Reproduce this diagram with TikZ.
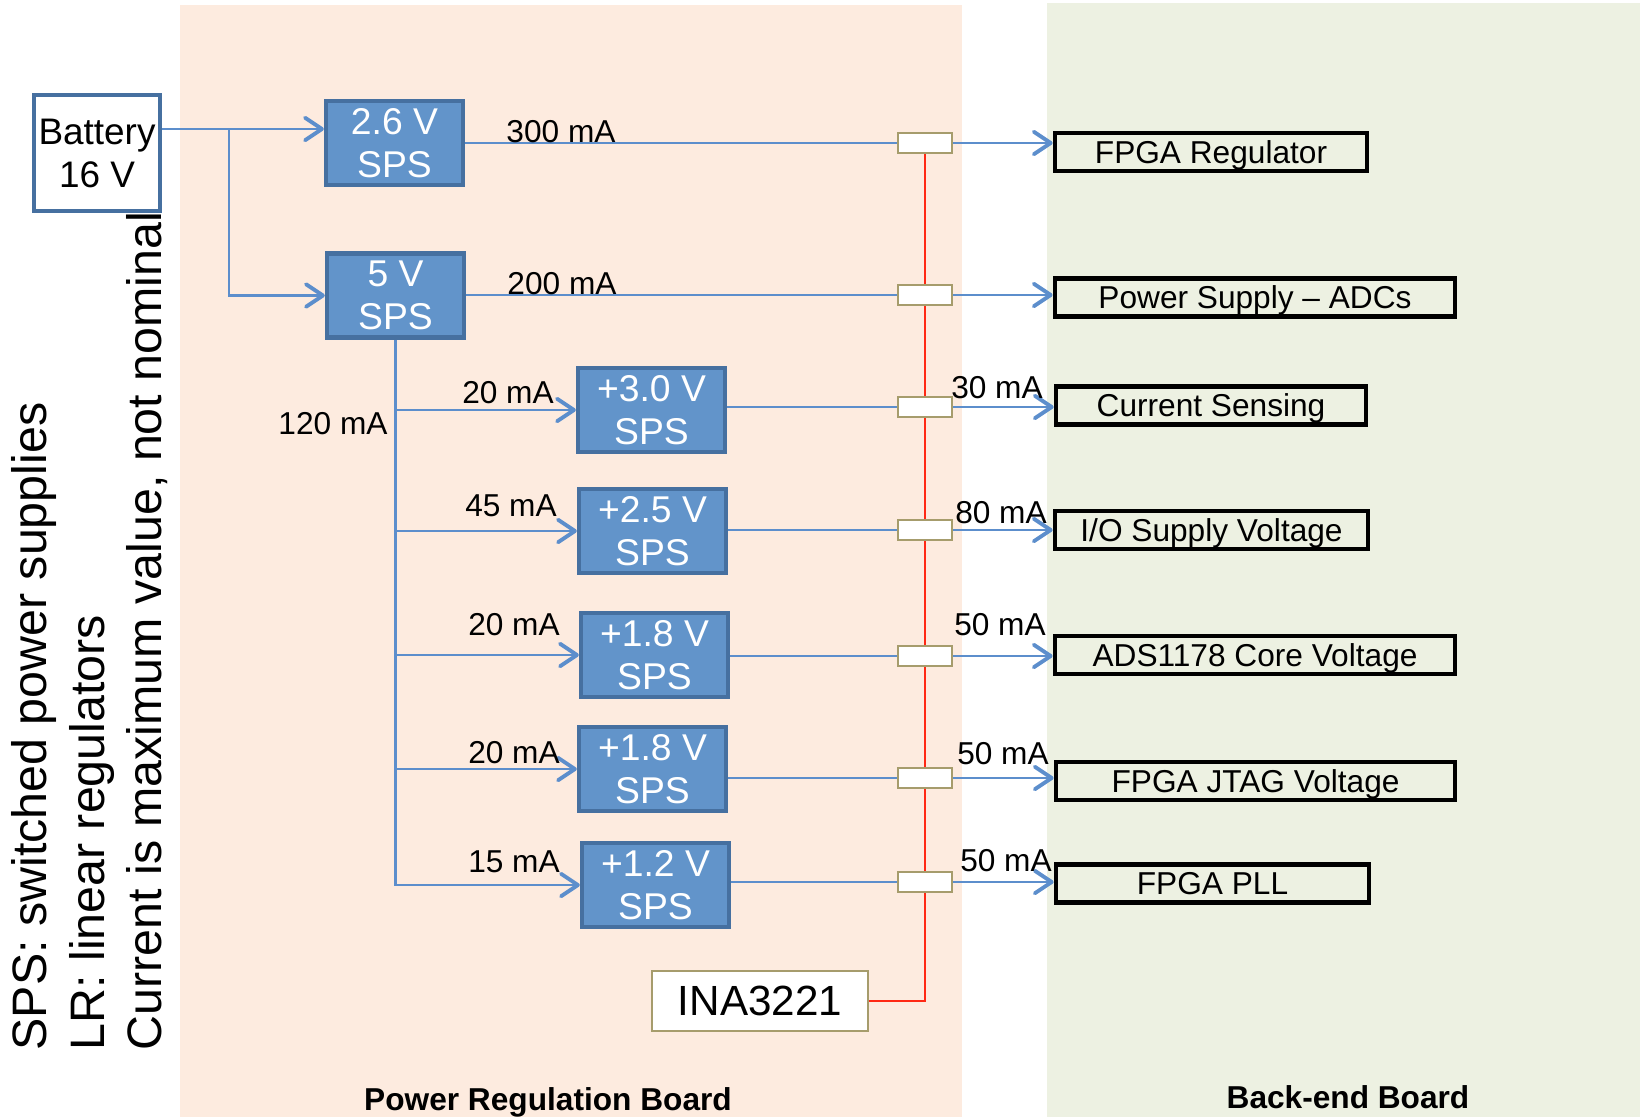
\documentclass[tikz,border=0pt]{standalone}
\usepackage{fontspec}
\setmainfont{Liberation Sans}
\usepackage{tikz}
\usetikzlibrary{arrows.meta,backgrounds}

\definecolor{peach}{RGB}{253,235,223}
\definecolor{sage}{RGB}{237,241,226}
\definecolor{spsfill}{RGB}{98,148,202}
\definecolor{spsedge}{RGB}{70,112,160}
\definecolor{wireblue}{RGB}{92,142,204}
\definecolor{khaki}{RGB}{166,156,108}
\definecolor{sensered}{RGB}{255,40,20}

\begin{document}
\begin{tikzpicture}[
  x=0.01cm, y=-0.01cm,
  sps/.style={draw=spsedge, line width=1.2pt, fill=spsfill, text=white, align=center,
              inner sep=0pt, minimum height=0.84cm, font=\fontsize{10.6pt}{12.2pt}\selectfont},
  batt/.style={draw=spsedge, line width=1.2pt, fill=white, align=center, inner sep=0pt,
               minimum width=1.26cm, minimum height=1.16cm, text depth=0pt,
               font=\fontsize{10.5pt}{12.2pt}\selectfont},
  load/.style={draw=black, line width=1.3pt, inner sep=0pt, minimum height=0.38cm,
               text depth=0pt, font=\fontsize{9pt}{10pt}\selectfont},
  shunt/.style={draw=khaki, line width=0.8pt, fill=white, inner sep=0pt,
                minimum width=0.54cm, minimum height=0.20cm},
  amps/.style={inner sep=0pt, anchor=base, font=\fontsize{9pt}{10pt}\selectfont},
  wire/.style={draw=wireblue, line width=0.6pt},
  feed/.style={wire, -{Straight Barb[length=4.8pt, width=6.4pt, line width=1.1pt, round]}},
  sense/.style={draw=sensered, line width=0.6pt},
  boardlabel/.style={inner sep=0pt, anchor=base, font=\bfseries\fontsize{9pt}{10pt}\selectfont}
]
  \useasboundingbox (0,0) rectangle (1640,1117);

  % supplies
  \node[batt] (battery) at (97,153) {Battery\\16 V};
  \node[sps, minimum width=1.37cm] (sps26)  at (394.5,143)   {2.6 V\\SPS};
  \node[sps, minimum width=1.37cm] (sps5)   at (395.5,295.5) {5 V\\SPS};
  \node[sps, minimum width=1.47cm] (sps30)  at (651.5,410)   {+3.0 V\\SPS};
  \node[sps, minimum width=1.47cm] (sps25)  at (652.5,531)   {+2.5 V\\SPS};
  \node[sps, minimum width=1.47cm] (sps18a) at (654.5,655)   {+1.8 V\\SPS};
  \node[sps, minimum width=1.47cm] (sps18b) at (652.5,769)   {+1.8 V\\SPS};
  \node[sps, minimum width=1.47cm] (sps12)  at (655.5,885)   {+1.2 V\\SPS};

  % sense resistors
  \node[shunt] (r1) at (925,143) {};
  \node[shunt] (r2) at (925,295) {};
  \node[shunt] (r3) at (925,407) {};
  \node[shunt] (r4) at (925,530) {};
  \node[shunt] (r5) at (925,656) {};
  \node[shunt] (r6) at (925,778) {};
  \node[shunt] (r7) at (925,882) {};
  \node[draw=khaki, line width=0.8pt, fill=white, inner sep=0pt, minimum width=2.16cm,
        minimum height=0.60cm, font=\fontsize{12pt}{14pt}\selectfont] (ina) at (760,1001) {INA3221};

  % back-end loads
  \node[load, minimum width=3.12cm] (reg)  at (1211,152)    {FPGA Regulator};
  \node[load, minimum width=4.00cm] (adc)  at (1255,297.5)  {Power Supply -- ADCs};
  \node[load, minimum width=3.10cm] (cs)   at (1211,405.5)  {Current Sensing};
  \node[load, minimum width=3.13cm] (io)   at (1211.5,530)  {I/O Supply Voltage};
  \node[load, minimum width=4.00cm] (ads)  at (1255,655)    {ADS1178 Core Voltage};
  \node[load, minimum width=3.99cm] (jtag) at (1255.5,781)  {FPGA JTAG Voltage};
  \node[load, minimum width=3.13cm] (pll)  at (1212.5,883.5){FPGA PLL};

  % battery feed
  \coordinate (tap) at (229,129);
  \draw[feed] (battery.east |- tap) -- (tap -| sps26.west);
  \draw[feed] (tap) |- (sps5.west);

  % 5 V bus
  \draw[feed] (sps5.south) |- (sps12.west);
  \draw[feed] (sps5.south |- sps30.west)  -- (sps30.west);
  \draw[feed] (sps5.south |- sps25.west)  -- (sps25.west);
  \draw[feed] (sps5.south |- sps18a.west) -- (sps18a.west);
  \draw[feed] (sps5.south |- sps18b.west) -- (sps18b.west);

  % outputs through the shunts
  \draw[wire] (sps26.east) -- (r1.west);
  \draw[wire] (r2.west -| sps5.east) -- (r2.west);
  \draw[wire] (r3.west -| sps30.east) -- (r3.west);
  \draw[wire] (r4.west -| sps25.east) -- (r4.west);
  \draw[wire] (r5.west -| sps18a.east) -- (r5.west);
  \draw[wire] (r6.west -| sps18b.east) -- (r6.west);
  \draw[wire] (r7.west -| sps12.east) -- (r7.west);
  \draw[feed] (r1.east) -- (r1.east -| reg.west);
  \draw[feed] (r2.east) -- (r2.east -| adc.west);
  \draw[feed] (r3.east) -- (r3.east -| cs.west);
  \draw[feed] (r4.east) -- (r4.east -| io.west);
  \draw[feed] (r5.east) -- (r5.east -| ads.west);
  \draw[feed] (r6.east) -- (r6.east -| jtag.west);
  \draw[feed] (r7.east) -- (r7.east -| pll.west);

  % currents
  \node[amps] (i26)   at (561,142)  {300 mA};
  \node[amps] (i5)    at (562,294)  {200 mA};
  \node[amps] (ibus)  at (333,434)  {120 mA};
  \node[amps] (i30)   at (508,403)  {20 mA};
  \node[amps] (i25)   at (511,516)  {45 mA};
  \node[amps] (i18a)  at (514,635)  {20 mA};
  \node[amps] (i18b)  at (514,763)  {20 mA};
  \node[amps] (i12)   at (514,872)  {15 mA};
  \node[amps] (ocs)   at (997,398)  {30 mA};
  \node[amps] (oio)   at (1001,523) {80 mA};
  \node[amps] (oads)  at (1000,635) {50 mA};
  \node[amps] (ojtag) at (1003,764) {50 mA};
  \node[amps] (opll)  at (1006,871) {50 mA};

  % notes and board names
  \node[rotate=90, anchor=north west, align=left, inner sep=0pt,
        font=\fontsize{13.75pt}{16.3pt}\selectfont] (legend) at (11,1051)
        {SPS: switched power supplies\\LR: linear regulators\\Current is maximum value, not nominal};
  \node[boardlabel] (prb) at (548,1110) {Power Regulation Board};
  \node[boardlabel] (beb) at (1348,1108) {Back-end Board};

  \begin{scope}[on background layer]
    \fill[peach] (180,5) rectangle (962,1117);
    \fill[sage] (1047,3) rectangle (1640,1117);
    \draw[sense] (r1.south) -- (r1.south |- ina.east) -- (ina.east);
  \end{scope}
\end{tikzpicture}
\end{document}
